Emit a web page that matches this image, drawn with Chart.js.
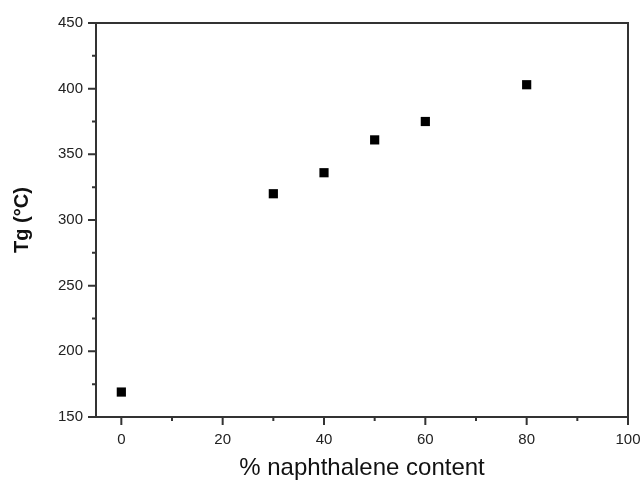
<!DOCTYPE html>
<html>
<head>
<meta charset="utf-8">
<script src="https://cdn.jsdelivr.net/npm/chart.js@4.4.1/dist/chart.umd.min.js"></script>
<style>
    html, body { margin: 0; padding: 0; background: #fff; }
    #wrap { width: 640px; height: 481px; }
</style>
</head>
<body>
<div id="wrap"><canvas id="chart"></canvas></div>
<script>
// naphthalene content (%) and glass transition temperature
const naphContent = [0, 30, 40, 50, 60, 80];
const tgValues = [169, 320, 336, 361, 375, 403];

const xTicks = [0, 20, 40, 60, 80, 100];
const xMinorTicks = [10, 30, 50, 70, 90];
const yTicks = [150, 200, 250, 300, 350, 400, 450];
const yMinorTicks = [175, 225, 275, 325, 375, 425];

const axisColor = "#333";

// frame + outward tick marks, placed through the scales
const frameTicks = {
    id: "frameTicks",
    afterDraw(chart) {
        const ctx = chart.ctx;
        const a = chart.chartArea;
        const xs = chart.scales.x, ys = chart.scales.y;
        ctx.save();
        ctx.strokeStyle = axisColor;
        ctx.lineWidth = 2;
        ctx.strokeRect(a.left, a.top, a.right - a.left, a.bottom - a.top);
        ctx.beginPath();
        xTicks.forEach(v => { const p = xs.getPixelForValue(v); ctx.moveTo(p, a.bottom); ctx.lineTo(p, a.bottom + 8); });
        xMinorTicks.forEach(v => { const p = xs.getPixelForValue(v); ctx.moveTo(p, a.bottom); ctx.lineTo(p, a.bottom + 4); });
        yTicks.forEach(v => { const p = ys.getPixelForValue(v); ctx.moveTo(a.left, p); ctx.lineTo(a.left - 8, p); });
        yMinorTicks.forEach(v => { const p = ys.getPixelForValue(v); ctx.moveTo(a.left, p); ctx.lineTo(a.left - 4, p); });
        ctx.stroke();
        ctx.restore();
    }
};

new Chart(document.getElementById("chart"), {
    type: "scatter",
    data: {
        datasets: [{
            label: "Tg",
            data: naphContent.map((x, i) => ({ x: x, y: tgValues[i] })),
            pointStyle: "rect",
            pointRadius: 6.5,
            pointHoverRadius: 6.5,
            backgroundColor: "#000",
            borderColor: "#000",
            borderWidth: 0
        }]
    },
    options: {
        responsive: true,
        maintainAspectRatio: false,
        animation: false,
        layout: { padding: { top: 23, right: 12, left: 0, bottom: 0 } },
        plugins: {
            legend: { display: false },
            tooltip: { enabled: false }
        },
        scales: {
            x: {
                type: "linear",
                min: -5,
                max: 100,
                afterBuildTicks: s => { s.ticks = xTicks.map(v => ({ value: v })); },
                afterFit: s => { s.height = 64; s.paddingRight = 0; s.paddingLeft = 0; },
                grid: { display: false },
                border: { display: false },
                ticks: {
                    color: "#222",
                    padding: 6,
                    maxRotation: 0,
                    font: { family: "'Liberation Sans', Arial, sans-serif", size: 15 }
                },
                title: {
                    display: true,
                    text: "% naphthalene content",
                    color: "#111",
                    padding: { top: 0, bottom: -2 },
                    font: { family: "'Liberation Sans', Arial, sans-serif", size: 24 }
                }
            },
            y: {
                type: "linear",
                min: 150,
                max: 450,
                afterBuildTicks: s => { s.ticks = yTicks.map(v => ({ value: v })); },
                afterFit: s => { s.width = 96; s.paddingTop = 0; s.paddingBottom = 0; },
                grid: { display: false },
                border: { display: false },
                ticks: {
                    color: "#222",
                    padding: 5,
                    font: { family: "'Liberation Sans', Arial, sans-serif", size: 15 }
                },
                title: {
                    display: true,
                    text: "Tg (°C)",
                    color: "#111",
                    padding: { top: 10, bottom: 0 },
                    font: { family: "'Liberation Sans', Arial, sans-serif", size: 20, weight: "bold" }
                }
            }
        }
    },
    plugins: [frameTicks]
});
</script>
</body>
</html>
